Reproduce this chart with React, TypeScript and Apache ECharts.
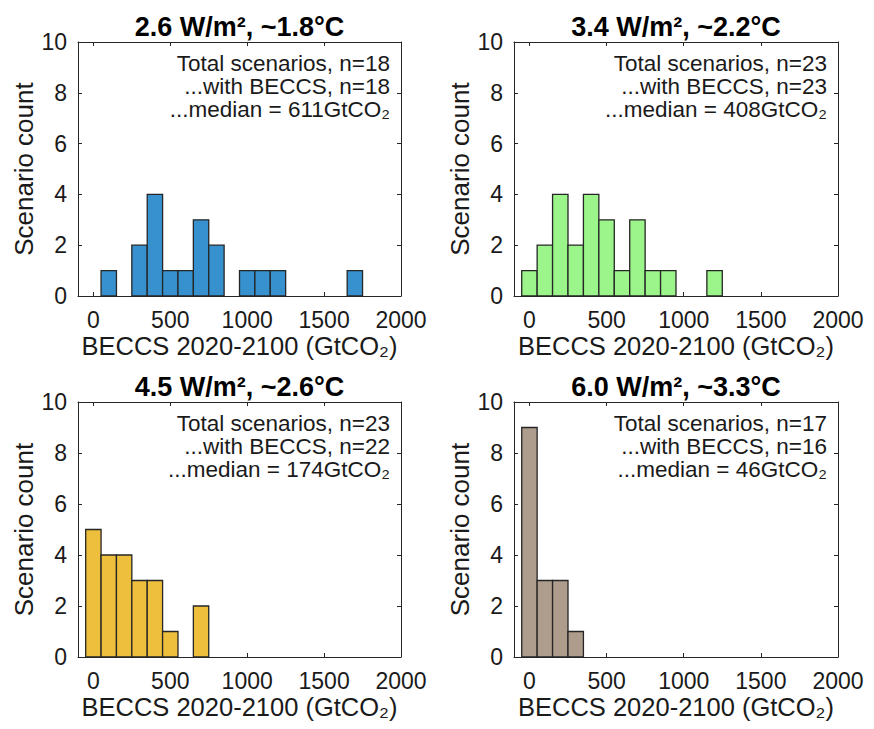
import React, { useEffect, useRef } from "react";
import * as echarts from "echarts";

// ---- data ----
const BIN_WIDTH = 100;
const xTickValues = [0, 500, 1000, 1500, 2000];

const titles = ["2.6 W/m², ~1.8°C", "3.4 W/m², ~2.2°C", "4.5 W/m², ~2.6°C", "6.0 W/m², ~3.3°C"];

const binCenters1 = [100, 300, 400, 500, 600, 700, 800, 1000, 1100, 1200, 1700];
const counts1 = [1, 2, 4, 1, 1, 3, 2, 1, 1, 1, 1];
const binCenters2 = [0, 100, 200, 300, 400, 500, 600, 700, 800, 900, 1200];
const counts2 = [1, 2, 4, 2, 4, 3, 1, 3, 1, 1, 1];
const binCenters3 = [0, 100, 200, 300, 400, 500, 700];
const counts3 = [5, 4, 4, 3, 3, 1, 2];
const binCenters4 = [0, 100, 200, 300];
const counts4 = [9, 3, 3, 1];

const totalScenarios = [18, 23, 23, 17];
const withBeccs = [18, 23, 22, 16];
const medians = [611, 408, 174, 46];

const colors = ["#3691CE", "#9CF58A", "#EEBF3C", "#AE9D8C"];

const FONT = '"Liberation Sans", Arial, Helvetica, sans-serif';
const TXT = "#1a1a1a";
const AX = "#262626";

export default function App() {
  const ref = useRef<HTMLDivElement>(null);
  useEffect(() => {
    if (!ref.current) return;
    document.body.style.margin = "0";
    const chart = echarts.init(ref.current, null, { renderer: "svg" });

    const centersAll = [binCenters1, binCenters2, binCenters3, binCenters4];
    const countsAll = [counts1, counts2, counts3, counts4];
    const lefts = [78, 514, 78, 514];
    const tops = [42, 42, 402, 402];
    const widths = [323, 324, 323, 324];
    const heights = [254, 254, 255, 255];

    const grid: any[] = [];
    const xAxis: any[] = [];
    const yAxis: any[] = [];
    const series: any[] = [];
    const graphic: any[] = [];

    for (let i = 0; i < 4; i++) {
      grid.push({ left: lefts[i], top: tops[i], width: widths[i], height: heights[i], containLabel: false });
      const xCommon = {
        type: "value",
        gridIndex: i,
        min: -100,
        max: 2000,
        splitLine: { show: false },
        axisLine: { show: true, onZero: false, lineStyle: { color: AX, width: 1 } },
      };
      xAxis.push({
        ...xCommon,
        position: "bottom",
        name: "BECCS 2020-2100 (GtCO₂)",
        nameLocation: "middle",
        nameGap: 37,
        nameTextStyle: { fontFamily: FONT, fontSize: 25.5, color: TXT },
        axisTick: { show: true, inside: true, length: 4, customValues: xTickValues, lineStyle: { color: AX } },
        axisLabel: {
          show: true,
          margin: 12,
          customValues: xTickValues,
          formatter: (v: number) => String(v),
          fontFamily: FONT,
          fontSize: 23,
          color: TXT,
        },
      });
      xAxis.push({
        ...xCommon,
        position: "top",
        axisTick: { show: true, inside: true, length: 4, customValues: xTickValues, lineStyle: { color: AX } },
        axisLabel: { show: false },
      });
      const yCommon = {
        type: "value",
        gridIndex: i,
        min: 0,
        max: 10,
        interval: 2,
        splitLine: { show: false },
        axisLine: { show: true, onZero: false, lineStyle: { color: AX, width: 1 } },
        axisTick: { show: true, inside: true, length: 4, lineStyle: { color: AX } },
      };
      yAxis.push({
        ...yCommon,
        position: "left",
        name: "Scenario count",
        nameLocation: "middle",
        nameRotate: 90,
        nameGap: 41,
        nameTextStyle: { fontFamily: FONT, fontSize: 26, color: TXT },
        axisLabel: { show: true, margin: 11, fontFamily: FONT, fontSize: 23, color: TXT },
      });
      yAxis.push({
        ...yCommon,
        position: "right",
        axisLabel: { show: false },
      });

      const color = colors[i];
      series.push({
        type: "custom",
        xAxisIndex: 2 * i,
        yAxisIndex: 2 * i,
        encode: { x: 0, y: 1 },
        data: centersAll[i].map((c, k) => [c, countsAll[i][k]]),
        renderItem: (params: any, api: any) => {
          const c = api.value(0);
          const n = api.value(1);
          const p0 = api.coord([c - BIN_WIDTH / 2, 0]);
          const p1 = api.coord([c + BIN_WIDTH / 2, n]);
          return {
            type: "rect",
            shape: { x: p0[0], y: p1[1], width: p1[0] - p0[0], height: p0[1] - p1[1] },
            style: { fill: color, stroke: AX, lineWidth: 1.3 },
          };
        },
      });

      const cx = lefts[i] + widths[i] / 2;
      const right = lefts[i] + widths[i] - 11;
      const baseY = tops[i];
      graphic.push({
        type: "text",
        x: cx,
        y: baseY - 15,
        style: {
          text: titles[i],
          fontFamily: FONT,
          fontSize: 27,
          fontWeight: "bold",
          fill: "#000",
          textAlign: "center",
          textVerticalAlign: "middle",
        },
      });
      const lines = [
        `Total scenarios, n=${totalScenarios[i]}`,
        `...with BECCS, n=${withBeccs[i]}`,
        `...median = ${medians[i]}GtCO₂`,
      ];
      graphic.push({
        type: "text",
        x: right,
        y: baseY + 9.5,
        style: {
          text: lines.join("\n"),
          fontFamily: FONT,
          fontSize: 22.5,
          lineHeight: 23,
          fill: TXT,
          textAlign: "right",
          textVerticalAlign: "top",
        },
      });
    }

    chart.setOption({
      animation: false,
      backgroundColor: "#fff",
      grid,
      xAxis,
      yAxis,
      series,
      graphic,
    });
    return () => chart.dispose();
  }, []);
  return <div ref={ref} style={{ position: "absolute", left: 0, top: 0, width: 874, height: 729 }} />;
}
